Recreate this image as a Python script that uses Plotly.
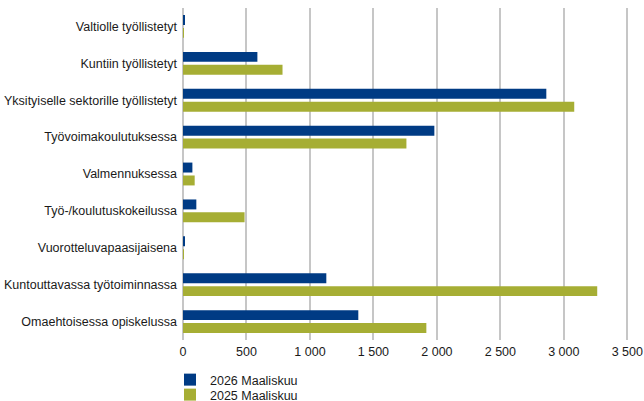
import plotly.graph_objects as go

categories = [
    "Valtiolle työllistetyt",
    "Kuntiin työllistetyt",
    "Yksityiselle sektorille työllistetyt",
    "Työvoimakoulutuksessa",
    "Valmennuksessa",
    "Työ-/koulutuskokeilussa",
    "Vuorotteluvapaasijaisena",
    "Kuntouttavassa työtoiminnassa",
    "Omaehtoisessa opiskelussa",
]
series_2026 = [10, 586, 2862, 1980, 74, 105, 8, 1129, 1381]
series_2025 = [5, 784, 3082, 1760, 92, 485, 4, 3263, 1917]
tick_vals = [0, 500, 1000, 1500, 2000, 2500, 3000, 3500]

FONT = "Liberation Sans, Arial, sans-serif"

fig = go.Figure()
fig.add_trace(go.Bar(y=categories, x=series_2026, orientation="h",
                     name="2026 Maaliskuu", legend="legend",
                     marker=dict(color="#003B84", line=dict(width=0))))
fig.add_trace(go.Bar(y=categories, x=series_2025, orientation="h",
                     name="2025 Maaliskuu", legend="legend2",
                     marker=dict(color="#A6AE34", line=dict(width=0))))

legend_common = dict(orientation="v", xref="container", yref="container",
                     xanchor="left", yanchor="middle",
                     font=dict(family=FONT, size=12.5, color="#1a1a1a"),
                     bgcolor="rgba(0,0,0,0)", itemwidth=30, borderwidth=0)

fig.update_layout(
    width=644, height=401,
    margin=dict(l=183, r=4, t=8, b=61, autoexpand=False),
    plot_bgcolor="white", paper_bgcolor="white",
    barmode="group", bargap=0.3, bargroupgap=0.23,
    separators=", ",
    font=dict(family=FONT, size=12.5, color="#1a1a1a"),
    showlegend=True,
    legend=dict(x=170 / 644, y=1 - 380 / 401, **legend_common),
    legend2=dict(x=170 / 644, y=1 - 395 / 401, **legend_common),
)
fig.update_xaxes(range=[0, 3600], tickvals=tick_vals, tickformat=",d",
                 showgrid=True, gridcolor="#C6C6C6", gridwidth=2,
                 zeroline=True, zerolinecolor="#C6C6C6", zerolinewidth=2,
                 showline=False, ticks="", tickfont=dict(size=12.5),
                 ticklabelstandoff=2, automargin=False)
fig.update_yaxes(categoryorder="array", categoryarray=categories, autorange="reversed",
                 showgrid=False, zeroline=False, showline=False, ticks="",
                 ticklabelstandoff=5, tickfont=dict(size=12.5), automargin=False)

fig.write_html("out.html", config={"displayModeBar": False},
               post_script="document.body.style.margin='0';document.body.style.overflow='hidden';")
